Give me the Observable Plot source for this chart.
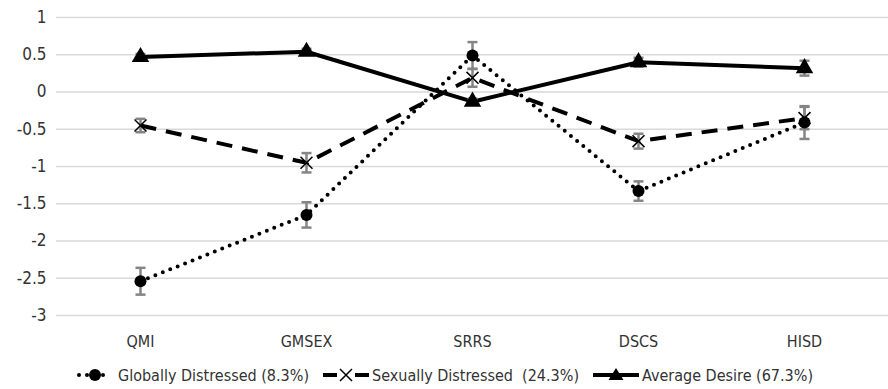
<!DOCTYPE html>
<html>
<head>
<meta charset="utf-8">
<script src="https://cdn.jsdelivr.net/npm/d3@7"></script>
<script src="https://cdn.jsdelivr.net/npm/@observablehq/plot@0.6"></script>
<style>
  html, body { margin: 0; padding: 0; background: #fff; }
  #chart { width: 888px; font-family: "Liberation Sans Narrow", "DejaVu Sans Condensed", sans-serif; }
  #legend { display: flex; justify-content: center; align-items: center; margin-top: 10px; height: 20px;
            font-size: 16px; color: #333; padding-left: 0px; }
  .item { display: flex; align-items: center; margin: 0 7px; }
  .item svg { margin-right: 3px; }
</style>
</head>
<body>
<div id="chart"></div>
<script>
const categories = ["QMI", "GMSEX", "SRRS", "DSCS", "HISD"];
const yTicks = [-3, -2.5, -2, -1.5, -1, -0.5, 0, 0.5, 1];

const seriesNames = ["Globally Distressed (8.3%)", "Sexually Distressed  (24.3%)", "Average Desire (67.3%)"];
const globallyDistressed = [-2.54, -1.65, 0.49, -1.33, -0.41];
const globallyDistressedErr = [0.18, 0.17, 0.18, 0.13, 0.22];
const sexuallyDistressed = [-0.45, -0.95, 0.19, -0.66, -0.35];
const sexuallyDistressedErr = [0.09, 0.13, 0.12, 0.10, 0.15];
const averageDesire = [0.47, 0.54, -0.13, 0.40, 0.32];
const averageDesireErr = [0.04, 0.04, 0.04, 0.06, 0.10];

function rows(values, errs, series) {
  return categories.map((c, i) => ({ cat: c, v: values[i], lo: values[i] - errs[i], hi: values[i] + errs[i], series }));
}
const gd = rows(globallyDistressed, globallyDistressedErr, seriesNames[0]);
const sd = rows(sexuallyDistressed, sexuallyDistressedErr, seriesNames[1]);
const ad = rows(averageDesire, averageDesireErr, seriesNames[2]);
const all = [...gd, ...sd, ...ad];

const capSymbol = {
  draw(ctx, size) {
    const r = Math.sqrt(size / Math.PI);
    ctx.moveTo(-r, 0);
    ctx.lineTo(r, 0);
  }
};

const errColor = "#858585";

const chart = Plot.plot({
  width: 888,
  height: 355,
  marginLeft: 56,
  marginRight: 0,
  marginTop: 17,
  marginBottom: 40,
  style: { fontFamily: "'Liberation Sans Narrow', 'DejaVu Sans Condensed', sans-serif", fontSize: "16px", color: "#333", background: "#fff" },
  x: { type: "point", domain: categories, padding: 0.5, label: null },
  y: { domain: [-3, 1], label: null },
  marks: [
    Plot.gridY(yTicks, { stroke: "#d9d9d9", strokeOpacity: 1, strokeWidth: 1.5 }),
    Plot.axisY(yTicks, { tickSize: 0, tickPadding: 10, tickFormat: d => String(d), fontSize: 17, label: null }),
    Plot.axisX({ tickSize: 0, tickPadding: 20, fontSize: 16, label: null }),
    Plot.line(gd, { x: "cat", y: "v", stroke: "black", strokeWidth: 4, strokeDasharray: "0,8", strokeLinecap: "round" }),
    Plot.line(sd, { x: "cat", y: "v", stroke: "black", strokeWidth: 4, strokeDasharray: "16,10", strokeLinecap: "butt" }),
    Plot.line(ad, { x: "cat", y: "v", stroke: "black", strokeWidth: 4 }),
    Plot.ruleX(all, { x: "cat", y1: "lo", y2: "hi", stroke: errColor, strokeWidth: 2.5 }),
    Plot.dot(all, { x: "cat", y: "lo", symbol: capSymbol, r: 5, stroke: errColor, strokeWidth: 2.5, fill: "none" }),
    Plot.dot(all, { x: "cat", y: "hi", symbol: capSymbol, r: 5, stroke: errColor, strokeWidth: 2.5, fill: "none" }),
    Plot.dot(gd, { x: "cat", y: "v", symbol: "circle", r: 6, fill: "black", stroke: "none" }),
    Plot.dot(sd, { x: "cat", y: "v", symbol: "times", r: 5.5, stroke: "black", strokeWidth: 1.5, fill: "none" }),
    Plot.dot(ad, { x: "cat", y: "v", symbol: "triangle", r: 6.5, fill: "black", stroke: "none" })
  ]
});
document.getElementById("chart").appendChild(chart);

// Legend
const legend = document.createElement("div");
legend.id = "legend";
const swatches = [
  `<svg width="40" height="16"><line x1="4" y1="8" x2="36" y2="8" stroke="black" stroke-width="4" stroke-dasharray="0,8" stroke-linecap="round"/><circle cx="20" cy="8" r="6" fill="black"/></svg>`,
  `<svg width="46" height="16"><line x1="0" y1="8" x2="46" y2="8" stroke="black" stroke-width="4" stroke-dasharray="14,18"/><path d="M17,2L29,14M29,2L17,14" stroke="black" stroke-width="1.5"/></svg>`,
  `<svg width="46" height="16"><line x1="0" y1="8" x2="46" y2="8" stroke="black" stroke-width="4"/><path d="M23,1L30.5,13L15.5,13Z" fill="black"/></svg>`
];
seriesNames.forEach((name, i) => {
  const item = document.createElement("div");
  item.className = "item";
  item.innerHTML = swatches[i] + `<span style="white-space:pre">${name}</span>`;
  legend.appendChild(item);
});
document.getElementById("chart").appendChild(legend);
</script>
</body>
</html>
